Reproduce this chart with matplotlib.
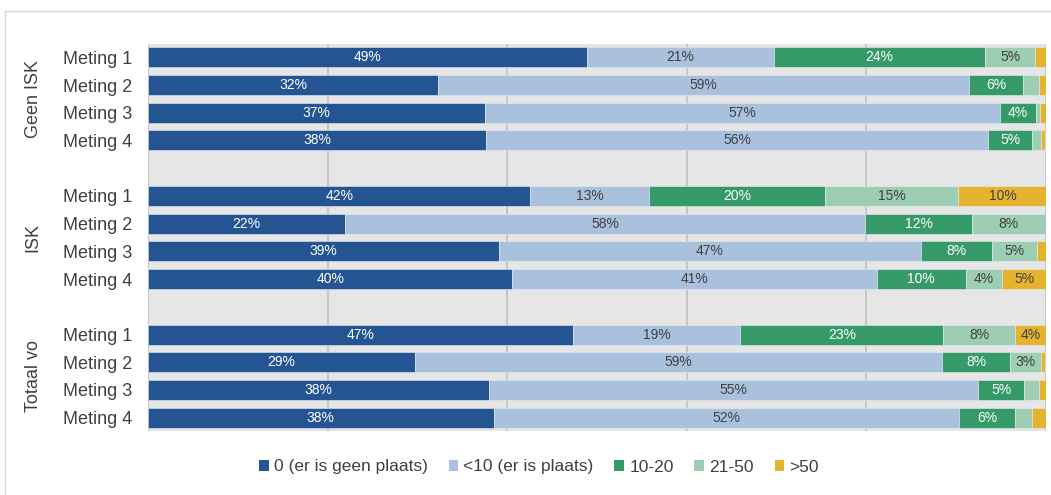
import matplotlib
matplotlib.use("Agg")
import matplotlib.pyplot as plt
from matplotlib.patches import Patch
from matplotlib.lines import Line2D

plt.rcParams['font.family'] = ['Liberation Sans', 'DejaVu Sans']

groups = ["Geen ISK", "ISK", "Totaal vo"]
metingen = ["Meting 1", "Meting 2", "Meting 3", "Meting 4"]
series = ["0 (er is geen plaats)", "<10 (er is plaats)", "10-20", "21-50", ">50"]

# segment widths (%); rows = Meting 1..4, columns = series
geen_isk = [
    [48.9, 20.8, 23.6, 5.5, 1.2],
    [32.3, 59.2, 6.0, 1.8, 0.7],
    [37.5, 57.4, 4.0, 0.5, 0.6],
    [37.7, 55.9, 4.9, 1.0, 0.5],
]
isk = [
    [42.6, 13.2, 19.6, 14.9, 9.8],
    [22.0, 57.9, 11.9, 8.2, 0.0],
    [39.1, 47.0, 7.9, 5.1, 0.9],
    [40.6, 40.6, 9.9, 4.1, 4.9],
]
totaal_vo = [
    [47.3, 18.7, 22.6, 8.0, 3.5],
    [29.7, 58.8, 7.6, 3.4, 0.5],
    [38.0, 54.5, 5.1, 1.7, 0.7],
    [38.5, 51.9, 6.2, 1.9, 1.5],
]
data = [geen_isk, isk, totaal_vo]

# printed labels ("" = no label shown)
geen_isk_labels = [
    ["49%", "21%", "24%", "5%", ""],
    ["32%", "59%", "6%", "", ""],
    ["37%", "57%", "4%", "", ""],
    ["38%", "56%", "5%", "", ""],
]
isk_labels = [
    ["42%", "13%", "20%", "15%", "10%"],
    ["22%", "58%", "12%", "8%", ""],
    ["39%", "47%", "8%", "5%", ""],
    ["40%", "41%", "10%", "4%", "5%"],
]
totaal_vo_labels = [
    ["47%", "19%", "23%", "8%", "4%"],
    ["29%", "59%", "8%", "3%", ""],
    ["38%", "55%", "5%", "", ""],
    ["38%", "52%", "6%", "", ""],
]
labels = [geen_isk_labels, isk_labels, totaal_vo_labels]

colors = ["#245592", "#aac1de", "#359a68", "#9dcdb2", "#e4b431"]
label_colors = ["white", "#404040", "white", "#404040", "#404040"]
text_col = "#404040"

fig = plt.figure(figsize=(10.51, 4.95), dpi=100)
ax = fig.add_axes([148/1051, 1-431/495, (1045.5-148)/1051, (431-44)/495])
ax.set_facecolor("#e6e6e6")

ypos = []
ylabels = []
for gi, g in enumerate(data):
    for mi, row in enumerate(g):
        y = gi * 5 + mi
        ypos.append(y)
        ylabels.append(metingen[mi])
        left = 0
        for si, v in enumerate(row):
            if v > 0:
                ax.barh(y, v, left=left, height=0.72, color=colors[si],
                        edgecolor="#e8ecf2", linewidth=0.4, zorder=3)
                lab = labels[gi][mi][si]
                if lab:
                    ax.text(left + v/2, y, lab, ha="center", va="center",
                            fontsize=10, color=label_colors[si], zorder=4)
            left += v

ax.set_xlim(0, 100)
ax.set_ylim(13.48, -0.48)
ax.set_yticks(ypos)
ax.set_yticklabels(ylabels, fontsize=13, color=text_col)
ax.tick_params(axis="y", length=0, pad=11.5)
ax.set_xticks([0, 20, 40, 60, 80, 100])
ax.tick_params(axis="x", length=0, labelbottom=False)
ax.grid(axis="x", color="#c0c0c0", linewidth=1.2, zorder=0)
ax.set_axisbelow(True)
for s in ax.spines.values():
    s.set_visible(False)

group_centers = [99, 237, 376]
for gname, yc in zip(groups, group_centers):
    fig.text(33/1051, 1 - yc/495, gname, rotation=90, ha="center", va="center",
             fontsize=13, color=text_col)

handles = [Patch(facecolor=c, edgecolor="none") for c in colors]
leg = fig.legend(handles, series, loc="center", bbox_to_anchor=(539/1051, 1-467/495),
                 ncol=5, frameon=False, fontsize=12.5, handlelength=0.55,
                 handleheight=0.55, handletextpad=0.3, columnspacing=1.2,
                 labelcolor=text_col)

# figure frame (top and left lines)
fig.add_artist(Line2D([5/1051, 1], [1-11/495, 1-11/495], color="#d9d9d9", linewidth=1,
                      transform=fig.transFigure))
fig.add_artist(Line2D([5/1051, 5/1051], [0, 1-11/495], color="#d9d9d9", linewidth=1,
                      transform=fig.transFigure))

fig.savefig("out.png", dpi=100)
